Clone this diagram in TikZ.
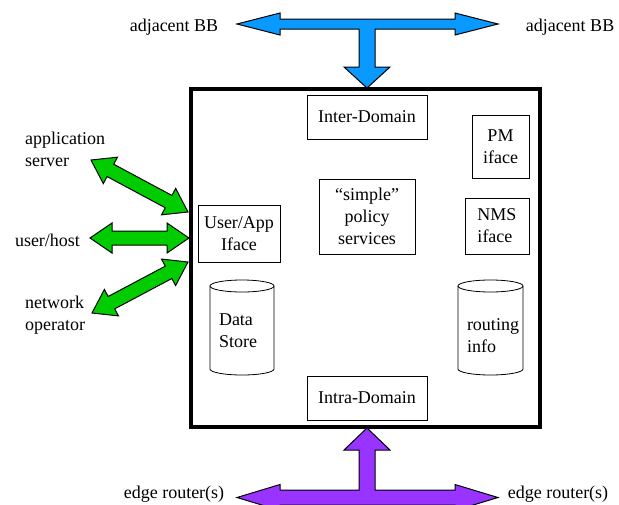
\documentclass[tikz,border=0pt]{standalone}
\usepackage{fontspec}
\setmainfont{LiberationSerif}[Extension=.ttf, UprightFont=*-Regular, BoldFont=*-Bold, ItalicFont=*-Italic]
\usetikzlibrary{calc}
\definecolor{bbblue}{HTML}{0A99FF}
\definecolor{usrgreen}{HTML}{00CC00}
\definecolor{edgepurple}{HTML}{9933FF}
% double block arrow: #1 start, #2 end, #3 shaft half width, #4 head half width, #5 head length, #6 style
\newcommand\dblarrow[6]{%
  \path[#6] (#1)
    -- ($(#1)!#5!(#2)!#4!90:(#2)$)
    -- ($(#1)!#5!(#2)!#3!90:(#2)$)
    -- ($(#2)!#5!(#1)!#3!-90:(#1)$)
    -- ($(#2)!#5!(#1)!#4!-90:(#1)$)
    -- (#2)
    -- ($(#2)!#5!(#1)!#4!90:(#1)$)
    -- ($(#2)!#5!(#1)!#3!90:(#1)$)
    -- ($(#1)!#5!(#2)!#3!-90:(#2)$)
    -- ($(#1)!#5!(#2)!#4!-90:(#2)$)
    -- cycle;}
\begin{document}
\begin{tikzpicture}[x=1pt,y=-1pt,
  font=\fontsize{18}{22}\selectfont,
  lbl/.style={inner sep=0pt, align=left},
  part/.style={draw, line width=0.8pt, inner sep=0pt, align=center, fill=white},
  cyl/.style={draw, line width=0.8pt},
  bluearrow/.style={draw=black, line width=1pt, fill=bbblue, line join=miter},
  purplearrow/.style={draw=black, line width=1pt, fill=edgepurple, line join=miter},
  greenarrow/.style={draw=black, line width=1pt, fill=usrgreen, line join=miter}]
\useasboundingbox (0,0) rectangle (619,504);
\fill[white] (0,0) rectangle (619,504);

% main box
\node[draw, line width=4pt, minimum width=349pt, minimum height=338pt, inner sep=0pt, fill=white] (bb) at (365.5,258) {};

% inner parts
\node[part, minimum width=120pt, minimum height=44pt] (inter) at (367,117) {Inter-Domain};
\node[part, minimum width=96pt, minimum height=75pt] (simple) at (367,216.5) {“simple”\\policy\\services};
\node[part, minimum width=82pt, minimum height=57pt] (user) at (239,233.5) {User/App\\Iface};
\node[part, minimum width=57pt, minimum height=63pt] (pm) at (500.5,146.5) {PM\\iface};
\node[part, minimum width=64pt, minimum height=56pt, align=left] (nms) at (497,226) {NMS\\iface};
\node[part, minimum width=120pt, minimum height=44pt] (intra) at (367,398) {Intra-Domain};

% Data Store cylinder
\draw[cyl] (242,286) ellipse [x radius=32pt, y radius=6pt];
\draw[cyl] (210,286) -- (210,369) arc[start angle=180, end angle=360, x radius=32pt, y radius=6pt] -- (274,286);
\node[lbl] (ds) at (238,331) {Data\\Store};

% routing info cylinder
\draw[cyl] (490.5,286) ellipse [x radius=32.5pt, y radius=6pt];
\draw[cyl] (458,286) -- (458,369) arc[start angle=180, end angle=360, x radius=32.5pt, y radius=6pt] -- (523,286);
\node[lbl] (ri) at (493,336) {routing\\info};

% outside labels
\node[lbl, anchor=west] (apps) at (25,149) {application\\server};
\node[lbl] (uh) at (47.5,240) {user/host};
\node[lbl, anchor=west] (netop) at (25,315) {network\\operator};
\node[lbl] (adjL) at (174,27) {adjacent BB};
\node[lbl] (adjR) at (570,27) {adjacent BB};
\node[lbl] (erL) at (174,494) {edge router(s)};
\node[lbl] (erR) at (558,494) {edge router(s)};

% blue T arrow
\draw[bluearrow] (237,24) -- (280,13) -- (280,19) -- (455,19) -- (455,13) -- (498,24)
  -- (455,35) -- (455,29) -- (375,29) -- (375,67) -- (390,67) -- (367,88) -- (344,67)
  -- (359,67) -- (359,29) -- (280,29) -- (280,35) -- cycle;

% purple T arrow
\draw[purplearrow] (237,497.5) -- (280,484.5) -- (280,490) -- (359,490) -- (359,450)
  -- (344,450) -- (367,428) -- (390,450) -- (375,450) -- (375,490) -- (455,490)
  -- (455,484.5) -- (498,497.5) -- (455,510.5) -- (455,505) -- (280,505) -- (280,510.5) -- cycle;

% green arrows
\coordinate (g1a) at (91,160); \coordinate (g1b) at (188,212);
\coordinate (g2a) at (90,238); \coordinate (g2b) at (189,238);
\coordinate (g3a) at (92,313); \coordinate (g3b) at (188,262);
\dblarrow{g1a}{g1b}{7pt}{15pt}{22pt}{greenarrow}
\dblarrow{g2a}{g2b}{7pt}{15pt}{22pt}{greenarrow}
\dblarrow{g3a}{g3b}{7pt}{15pt}{22pt}{greenarrow}
\end{tikzpicture}
\end{document}
